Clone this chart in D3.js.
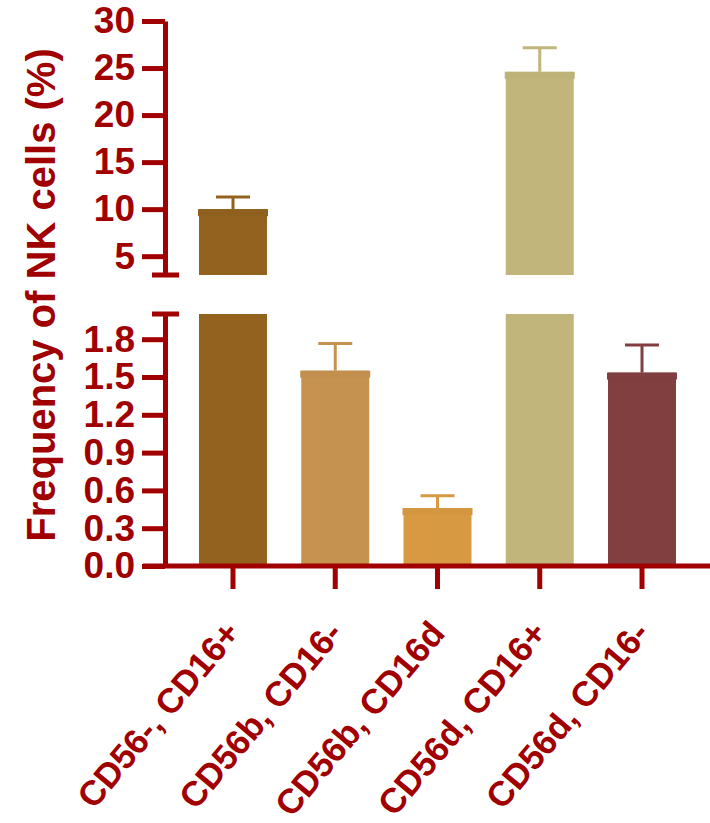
<!DOCTYPE html>
<html>
<head>
<meta charset="utf-8">
<script src="https://cdn.jsdelivr.net/npm/d3@7"></script>
<style>
  html, body { margin: 0; padding: 0; background: #fff; }
  svg { display: block; }
  text { font-family: "Liberation Sans", Arial, sans-serif; font-weight: bold; fill: #A00000; }
</style>
</head>
<body>
<script>
// ---- data ----
const categories = ["CD56-, CD16+", "CD56b, CD16-", "CD56b, CD16d", "CD56d, CD16+", "CD56d, CD16-"];
const means = [10.0, 1.55, 0.46, 24.6, 1.535];
const sems = [1.3, 0.215, 0.097, 2.55, 0.218];
const colors = ["#93621F", "#C5934F", "#D79A42", "#C1B57B", "#813F40"];
const topTicks = [5, 10, 15, 20, 25, 30];
const topTickLabels = ["5", "10", "15", "20", "25", "30"];
const bottomTicks = [0, 0.3, 0.6, 0.9, 1.2, 1.5, 1.8];
const bottomTickLabels = ["0.0", "0.3", "0.6", "0.9", "1.2", "1.5", "1.8"];
const yTitle = "Frequency of NK cells (%)";
const topDomain = [3, 30];
const bottomDomain = [0, 2];

// ---- layout ----
const W = 710, H = 823;
const axisColor = "#A00000";
const axisX = 165;
const barW = 68;

const svg = d3.select("body").append("svg").attr("width", W).attr("height", H);

const x = d3.scalePoint().domain(categories).range([233, 642]);
const yTop = d3.scaleLinear().domain(topDomain).range([275, 21]);
const yBot = d3.scaleLinear().domain(bottomDomain).range([566, 314]);

const data = categories.map((c, i) => ({ c, m: means[i], e: sems[i], col: colors[i] }));

// ---- bars ----
const gBars = svg.append("g");
data.forEach(d => {
  const cx = x(d.c);
  const segs = [];
  const botTop = yBot(Math.min(d.m, bottomDomain[1]));
  segs.push({ y0: botTop, y1: yBot(0), top: d.m <= bottomDomain[1] });
  if (d.m > topDomain[0]) {
    segs.push({ y0: yTop(Math.min(d.m, topDomain[1])), y1: yTop(topDomain[0]), top: true });
  }
  segs.forEach(s => {
    gBars.append("rect")
      .attr("x", cx - barW / 2).attr("y", s.y0)
      .attr("width", barW).attr("height", s.y1 - s.y0)
      .attr("fill", d.col);
    if (s.top) {
      gBars.append("rect")
        .attr("x", cx - barW / 2 - 1).attr("y", s.y0)
        .attr("width", barW + 2).attr("height", 7)
        .attr("fill", d3.color(d.col).darker(0.05));
    }
  });
  // error bar
  const ys = d.m > bottomDomain[1] ? yTop : yBot;
  gBars.append("line")
    .attr("x1", cx).attr("x2", cx)
    .attr("y1", ys(d.m)).attr("y2", ys(d.m + d.e))
    .attr("stroke", d.col).attr("stroke-width", 3);
  gBars.append("line")
    .attr("x1", cx - 17).attr("x2", cx + 17)
    .attr("y1", ys(d.m + d.e)).attr("y2", ys(d.m + d.e))
    .attr("stroke", d.col).attr("stroke-width", 3);
});

// ---- y axes ----
function styleAxis(g) {
  g.selectAll("path.domain").attr("stroke", axisColor).attr("stroke-width", 5);
  g.selectAll(".tick line").attr("stroke", axisColor).attr("stroke-width", 5);
  g.selectAll(".tick text")
    .attr("fill", axisColor)
    .style("font-size", "37px")
    .style("font-family", "'Liberation Sans', Arial, sans-serif")
    .style("font-weight", "bold");
}

const gTop = svg.append("g").attr("transform", `translate(${axisX},0)`)
  .call(d3.axisLeft(yTop).tickValues(topTicks)
    .tickFormat((v, i) => topTickLabels[i]).tickSize(23).tickSizeOuter(0).tickPadding(7));
styleAxis(gTop);

const gBot = svg.append("g").attr("transform", `translate(${axisX},0)`)
  .call(d3.axisLeft(yBot).tickValues(bottomTicks)
    .tickFormat((v, i) => bottomTickLabels[i]).tickSize(23).tickSizeOuter(0).tickPadding(7));
styleAxis(gBot);

// break caps
[yTop(topDomain[0]), yBot(bottomDomain[1])].forEach(yy => {
  svg.append("line")
    .attr("x1", axisX - 13).attr("x2", axisX + 14)
    .attr("y1", yy).attr("y2", yy)
    .attr("stroke", axisColor).attr("stroke-width", 5);
});

// ---- x axis ----
svg.append("line")
  .attr("x1", axisX - 22).attr("x2", W)
  .attr("y1", yBot(0)).attr("y2", yBot(0))
  .attr("stroke", axisColor).attr("stroke-width", 5);

const gX = svg.append("g");
categories.forEach(c => {
  gX.append("line")
    .attr("x1", x(c)).attr("x2", x(c))
    .attr("y1", yBot(0)).attr("y2", yBot(0) + 23)
    .attr("stroke", axisColor).attr("stroke-width", 5);
  gX.append("text")
    .attr("transform", `translate(${x(c) + 9},634) rotate(-50)`)
    .attr("text-anchor", "end")
    .style("font-size", "35px")
    .text(c);
});

// ---- y title ----
svg.append("text")
  .attr("transform", `translate(55,295) rotate(-90)`)
  .attr("text-anchor", "middle")
  .style("font-size", "40px")
  .text(yTitle);
</script>
</body>
</html>
